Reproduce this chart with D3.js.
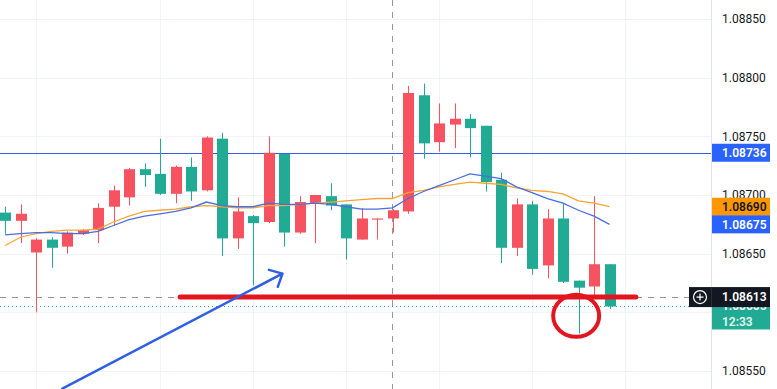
<!DOCTYPE html>
<html>
<head>
<meta charset="utf-8">
<script src="https://cdn.jsdelivr.net/npm/d3@7"></script>
<style>
  html, body { margin: 0; padding: 0; background: #fff; }
  svg { display: block; font-family: Roboto, "Noto Sans", sans-serif; }
</style>
</head>
<body>
<svg id="chart"></svg>
<script>
// candles (this chart draws up candles red and down candles green)
const opens  = [1.08685, 1.08678, 1.08651, 1.08662, 1.08656, 1.08667, 1.08670, 1.08690, 1.08698, 1.08722,
                1.08718, 1.08701, 1.08724, 1.08704, 1.08748, 1.08663, 1.08682, 1.08677, 1.08735, 1.08668,
                1.08693, 1.08699, 1.08692, 1.08662, 1.08679, 1.08680, 1.08686, 1.08785, 1.08745, 1.08760,
                1.08765, 1.08759, 1.08713, 1.08655, 1.08692, 1.08640, 1.08680, 1.08627, 1.08622, 1.08641];
const highs  = [1.08690, 1.08692, 1.08663, 1.08664, 1.08669, 1.08671, 1.08693, 1.08708, 1.08723, 1.08727,
                1.08748, 1.08725, 1.08732, 1.08750, 1.08753, 1.08698, 1.08683, 1.08750, 1.08735, 1.08699,
                1.08700, 1.08710, 1.08692, 1.08689, 1.08680, 1.08688, 1.08793, 1.08795, 1.08778, 1.08778,
                1.08769, 1.08759, 1.08719, 1.08697, 1.08695, 1.08688, 1.08693, 1.08627, 1.08699, 1.08641];
const lows   = [1.08667, 1.08659, 1.08600, 1.08638, 1.08650, 1.08666, 1.08659, 1.08674, 1.08691, 1.08707,
                1.08700, 1.08693, 1.08695, 1.08703, 1.08648, 1.08654, 1.08623, 1.08676, 1.08656, 1.08667,
                1.08659, 1.08687, 1.08645, 1.08662, 1.08662, 1.08668, 1.08684, 1.08731, 1.08737, 1.08740,
                1.08732, 1.08703, 1.08642, 1.08648, 1.08632, 1.08629, 1.08625, 1.08582, 1.08613, 1.08603];
const closes = [1.08678, 1.08684, 1.08662, 1.08655, 1.08668, 1.08670, 1.08689, 1.08704, 1.08722, 1.08717,
                1.08701, 1.08724, 1.08703, 1.08749, 1.08663, 1.08686, 1.08676, 1.08736, 1.08668, 1.08694,
                1.08700, 1.08691, 1.08663, 1.08680, 1.08680, 1.08687, 1.08787, 1.08744, 1.08761, 1.08765,
                1.08757, 1.08711, 1.08655, 1.08692, 1.08637, 1.08680, 1.08626, 1.08621, 1.08641, 1.08605];

// moving averages
const maFast = [1.08666, 1.08667, 1.08668, 1.08668, 1.08667, 1.08667, 1.08669, 1.08674, 1.08679, 1.08682,
                1.08684, 1.08686, 1.08689, 1.08694, 1.08691, 1.08690, 1.08690, 1.08693, 1.08692, 1.08692,
                1.08693, 1.08692, 1.08690, 1.08688, 1.08688, 1.08689, 1.08697, 1.08703, 1.08708, 1.08713,
                1.08718, 1.08716, 1.08714, 1.08707, 1.08702, 1.08697, 1.08693, 1.08687, 1.08682, 1.08675];
const maSlow = [1.08657, 1.08664, 1.08667, 1.08669, 1.08670, 1.08670, 1.08671, 1.08677, 1.08682, 1.08686,
                1.08687, 1.08688, 1.08690, 1.08691, 1.08690, 1.08689, 1.08689, 1.08691, 1.08691, 1.08692,
                1.08693, 1.08694, 1.08695, 1.08696, 1.08697, 1.08697, 1.08702, 1.08704, 1.08707, 1.08709,
                1.08711, 1.08710, 1.08709, 1.08706, 1.08704, 1.08703, 1.08701, 1.08695, 1.08693, 1.08690];

const priceTicks = [1.0855, 1.0860, 1.0865, 1.0870, 1.0875, 1.0880, 1.0885];
const hiddenTicks = [1.0860]; // covered by the last-price box in the picture
const timeGrid = [2, 10, 16, 22, 28, 34, 40];

const hLinePrice = 1.08736;
const crossIndex = 25, crossPrice = 1.08613;
const lastPrice = 1.08605, countdown = "12:33";
const supportPrice = 1.08613, supportFrom = 11.3, supportTo = 40.7;
const arrowFrom = [3.7, 1.08535], arrowTo = [17.9, 1.08633];
const circleAt = [36.85, 1.08597];

const W = 777, H = 389, plotRight = 711;
const green = "#22ab94", red = "#f7525f";

const svg = d3.select("#chart").attr("width", W).attr("height", H);

const x = d3.scaleLinear().domain([0, 40]).range([5, 625]);
const y = d3.scaleLinear().domain([1.0855, 1.0885]).range([371, 19]);

const candles = opens.map((o, i) => ({ i, o, h: highs[i], l: lows[i], c: closes[i] }));

const plot = svg.append("g");

// grid
plot.selectAll(".hg").data(priceTicks).join("line")
  .attr("x1", 0).attr("x2", plotRight)
  .attr("y1", d => Math.round(y(d)) + 0.5).attr("y2", d => Math.round(y(d)) + 0.5)
  .attr("stroke", "#f0f3fa");
plot.selectAll(".vg").data(timeGrid).join("line")
  .attr("x1", d => Math.round(x(d)) + 0.5).attr("x2", d => Math.round(x(d)) + 0.5)
  .attr("y1", 0).attr("y2", H)
  .attr("stroke", "#f0f3fa");

// horizontal drawn line
plot.append("line")
  .attr("x1", 0).attr("x2", plotRight)
  .attr("y1", Math.round(y(hLinePrice)) + 0.5).attr("y2", Math.round(y(hLinePrice)) + 0.5)
  .attr("stroke", "#2e5ff0").attr("stroke-width", 1);

// crosshair
plot.append("line")
  .attr("x1", Math.round(x(crossIndex)) - 0.5).attr("x2", Math.round(x(crossIndex)) - 0.5)
  .attr("y1", 0).attr("y2", H)
  .attr("stroke", "#9598a1").attr("stroke-dasharray", "6,6");
plot.append("line")
  .attr("x1", 0).attr("x2", plotRight)
  .attr("y1", Math.round(y(crossPrice)) + 0.5).attr("y2", Math.round(y(crossPrice)) + 0.5)
  .attr("stroke", "#9598a1").attr("stroke-dasharray", "6,6");

// last price line
plot.append("line")
  .attr("x1", 0).attr("x2", plotRight)
  .attr("y1", Math.round(y(lastPrice)) + 0.5).attr("y2", Math.round(y(lastPrice)) + 0.5)
  .attr("stroke", green).attr("stroke-dasharray", "1,3");

// candles
const cg = plot.append("g");
cg.selectAll("line").data(candles).join("line")
  .attr("x1", d => Math.round(x(d.i)) + 0.5).attr("x2", d => Math.round(x(d.i)) + 0.5)
  .attr("y1", d => y(d.h)).attr("y2", d => y(d.l))
  .attr("stroke", d => d.c >= d.o ? red : green);
cg.selectAll("rect").data(candles).join("rect")
  .attr("x", d => Math.round(x(d.i)) - 5)
  .attr("width", 11)
  .attr("y", d => y(Math.max(d.o, d.c)))
  .attr("height", d => Math.max(1, Math.abs(y(d.o) - y(d.c))))
  .attr("fill", d => d.c >= d.o ? red : green);

// moving averages
const line = d3.line().x((d, i) => x(i)).y(d => y(d)).curve(d3.curveLinear);
plot.append("path").attr("d", line(maSlow))
  .attr("fill", "none").attr("stroke", "#f7a534").attr("stroke-width", 1.3);
plot.append("path").attr("d", line(maFast))
  .attr("fill", "none").attr("stroke", "#4a6ee0").attr("stroke-width", 1.3);

// annotations
plot.append("line")
  .attr("x1", x(supportFrom)).attr("x2", x(supportTo))
  .attr("y1", y(supportPrice)).attr("y2", y(supportPrice))
  .attr("stroke", "#e3161f").attr("stroke-width", 5).attr("stroke-linecap", "round");

plot.append("ellipse")
  .attr("cx", x(circleAt[0])).attr("cy", y(circleAt[1]))
  .attr("rx", 23).attr("ry", 21)
  .attr("fill", "none").attr("stroke", "#e3161f").attr("stroke-width", 4);

const ax0 = x(arrowFrom[0]), ay0 = y(arrowFrom[1]);
const ax1 = x(arrowTo[0]), ay1 = y(arrowTo[1]);
const ang = Math.atan2(ay1 - ay0, ax1 - ax0);
const head = 14, spread = 43 * Math.PI / 180;
const w1 = [ax1 - head * Math.cos(ang - spread), ay1 - head * Math.sin(ang - spread)];
const w2 = [ax1 - head * Math.cos(ang + spread), ay1 - head * Math.sin(ang + spread)];
plot.append("path")
  .attr("d", `M${ax0},${ay0}L${ax1},${ay1}M${w1[0]},${w1[1]}L${ax1},${ay1}L${w2[0]},${w2[1]}`)
  .attr("fill", "none").attr("stroke", "#2f5fe3").attr("stroke-width", 2.5)
  .attr("stroke-linecap", "round").attr("stroke-linejoin", "round");

// price axis
const axis = svg.append("g");
axis.append("rect").attr("x", plotRight).attr("y", 0).attr("width", W - plotRight).attr("height", H).attr("fill", "#fff");
axis.append("line").attr("x1", plotRight + 0.5).attr("x2", plotRight + 0.5).attr("y1", 0).attr("y2", H).attr("stroke", "#e0e3eb");
axis.selectAll("text.tick").data(priceTicks.filter(d => !hiddenTicks.includes(d))).join("text")
  .attr("x", 722).attr("y", d => y(d)).attr("dy", "0.35em")
  .attr("font-size", 12).attr("fill", "#131722")
  .text(d => d.toFixed(5));

function priceBox(price, bg, fg, label) {
  const yy = y(price);
  axis.append("rect").attr("x", plotRight + 1).attr("y", yy - 9).attr("width", 58).attr("height", 18).attr("fill", bg);
  axis.append("text").attr("x", 722).attr("y", yy).attr("dy", "0.36em")
    .attr("font-size", 12).attr("font-weight", 600).attr("fill", fg).text(label);
}

// last price box with countdown; its price is mostly hidden under the crosshair label
const ly = y(lastPrice);
const cy = y(crossPrice);
svg.append("defs").append("clipPath").attr("id", "lastClip")
  .append("rect").attr("x", plotRight).attr("y", cy + 10).attr("width", W - plotRight).attr("height", 40);
axis.append("rect").attr("x", plotRight + 1).attr("y", ly - 8).attr("width", 58).attr("height", 31).attr("fill", green);
axis.append("text").attr("x", 722).attr("y", ly - 1).attr("dy", "0.36em").attr("clip-path", "url(#lastClip)")
  .attr("font-size", 12).attr("font-weight", 600).attr("fill", "#fff").text(lastPrice.toFixed(5));
axis.append("text").attr("x", 722).attr("y", ly + 15).attr("dy", "0.36em")
  .attr("font-size", 12).attr("font-weight", 600).attr("fill", "#e6f7f3").text(countdown);

priceBox(hLinePrice, "#2962ff", "#fff", hLinePrice.toFixed(5));
priceBox(maSlow[maSlow.length - 1], "#ff9800", "#131722", maSlow[maSlow.length - 1].toFixed(5));
priceBox(maFast[maFast.length - 1], "#2962ff", "#fff", maFast[maFast.length - 1].toFixed(5));

// crosshair price label with plus button
svg.append("rect").attr("x", 689).attr("y", cy - 10).attr("width", 81).attr("height", 20).attr("fill", "#131722");
svg.append("circle").attr("cx", 700).attr("cy", cy).attr("r", 6.5).attr("fill", "none").attr("stroke", "#fff").attr("stroke-width", 1.2);
svg.append("path").attr("d", `M696.5,${cy}H703.5M700,${cy - 3.5}V${cy + 3.5}`).attr("stroke", "#fff").attr("stroke-width", 1.2);
svg.append("line").attr("x1", plotRight + 0.5).attr("x2", plotRight + 0.5).attr("y1", cy - 10).attr("y2", cy + 10).attr("stroke", "#2a2e39");
svg.append("text").attr("x", 722).attr("y", cy).attr("dy", "0.36em")
  .attr("font-size", 12).attr("font-weight", 600).attr("fill", "#fff").text(crossPrice.toFixed(5));
</script>
</body>
</html>
